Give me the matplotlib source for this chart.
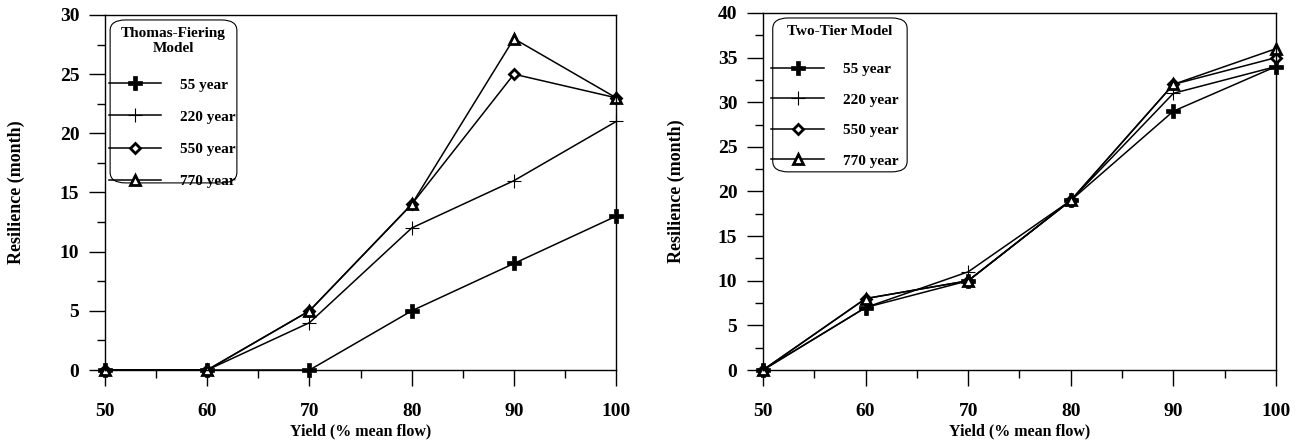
import matplotlib.pyplot as plt
from matplotlib.patches import FancyBboxPatch
from matplotlib.ticker import MultipleLocator

yield_pct = [50, 60, 70, 80, 90, 100]
series_names = ["55 year", "220 year", "550 year", "770 year"]

# Thomas-Fiering model resilience (months)
tf_55 = [0, 0, 0, 5, 9, 13]
tf_220 = [0, 0, 4, 12, 16, 21]
tf_550 = [0, 0, 5, 14, 25, 23]
tf_770 = [0, 0, 5, 14, 28, 23]

# Two-tier model resilience (months)
tt_55 = [0, 7, 10, 19, 29, 34]
tt_220 = [0, 7, 11, 19, 31, 34]
tt_550 = [0, 8, 10, 19, 32, 35]
tt_770 = [0, 8, 10, 19, 32, 36]

plt.rcParams["font.family"] = ["Liberation Serif", "DejaVu Serif"]
plt.rcParams["font.weight"] = "bold"

styles = [
    dict(marker="P", markersize=9.5, markerfacecolor="black", markeredgecolor="black", markeredgewidth=0.5),
    dict(marker="+", markersize=10, markeredgewidth=0.8),
    dict(marker="D", markersize=5.5, markerfacecolor="white", markeredgecolor="black", markeredgewidth=2.0),
    dict(marker="^", markersize=6.5, markerfacecolor="white", markeredgecolor="black", markeredgewidth=2.0),
]

fig = plt.figure(figsize=(13.11, 4.46), dpi=100)
ax1 = fig.add_axes([0.0801, 0.1704, 0.3899, 0.7960])
ax2 = fig.add_axes([0.5820, 0.1704, 0.3913, 0.8005])


def draw_panel(ax, data, ymax, title, box, first_row, spacing, ylab_x):
    for vals, name, st in zip(data, series_names, styles):
        ax.plot(yield_pct, vals, color="black", linewidth=1.1, label=name, clip_on=False, **st)
    ax.set_xlim(50, 100)
    ax.set_ylim(0, ymax)
    ax.xaxis.set_major_locator(MultipleLocator(10))
    ax.xaxis.set_minor_locator(MultipleLocator(5))
    ax.yaxis.set_major_locator(MultipleLocator(5))
    ax.yaxis.set_minor_locator(MultipleLocator(2.5))
    ax.tick_params(axis="both", which="major", direction="out", length=11.5, width=1, labelsize=14)
    ax.tick_params(axis="both", which="minor", direction="out", length=6, width=1)
    ax.tick_params(axis="x", which="major", pad=12)
    ax.tick_params(axis="y", which="major", pad=7)
    for lab in ax.get_xticklabels() + ax.get_yticklabels():
        lab.set_fontweight("bold")
    for sp in ax.spines.values():
        sp.set_linewidth(1)
    ax.set_xlabel("Yield (% mean flow)", fontsize=11.5, fontweight="bold", labelpad=3)
    ax.set_ylabel("Resilience (month)", fontsize=13, fontweight="bold")
    ax.yaxis.set_label_coords(ylab_x, 0.5)

    # rounded legend frame, drawn separately so the labels can run past it
    x0, y0, x1, y1 = box
    frame = FancyBboxPatch((x0, y0), x1 - x0, y1 - y0, transform=ax.transAxes,
                           boxstyle="round,pad=0,rounding_size=0.03",
                           facecolor="white", edgecolor="black", linewidth=0.8, zorder=4)
    ax.add_patch(frame)
    ax.text((x0 + x1) / 2, y1 - 0.02, title, transform=ax.transAxes, ha="center", va="top",
            multialignment="center", fontsize=11, fontweight="bold", linespacing=1.15, zorder=6)
    leg = ax.legend(loc="upper left", bbox_to_anchor=(x0 - 0.003, first_row),
                    handlelength=3.45, handletextpad=1.25, labelspacing=spacing,
                    borderpad=0, borderaxespad=0, frameon=False,
                    prop={"weight": "bold", "size": 11})
    leg.set_zorder(5)


draw_panel(ax1, [tf_55, tf_220, tf_550, tf_770], 30, "Thomas-Fiering\nModel",
           (0.010, 0.527, 0.258, 0.986), 0.823, 1.21, -0.157)
draw_panel(ax2, [tt_55, tt_220, tt_550, tt_770], 40, "Two-Tier Model",
           (0.019, 0.555, 0.281, 0.986), 0.861, 1.10, -0.152)

fig.savefig("out.png", dpi=100)
